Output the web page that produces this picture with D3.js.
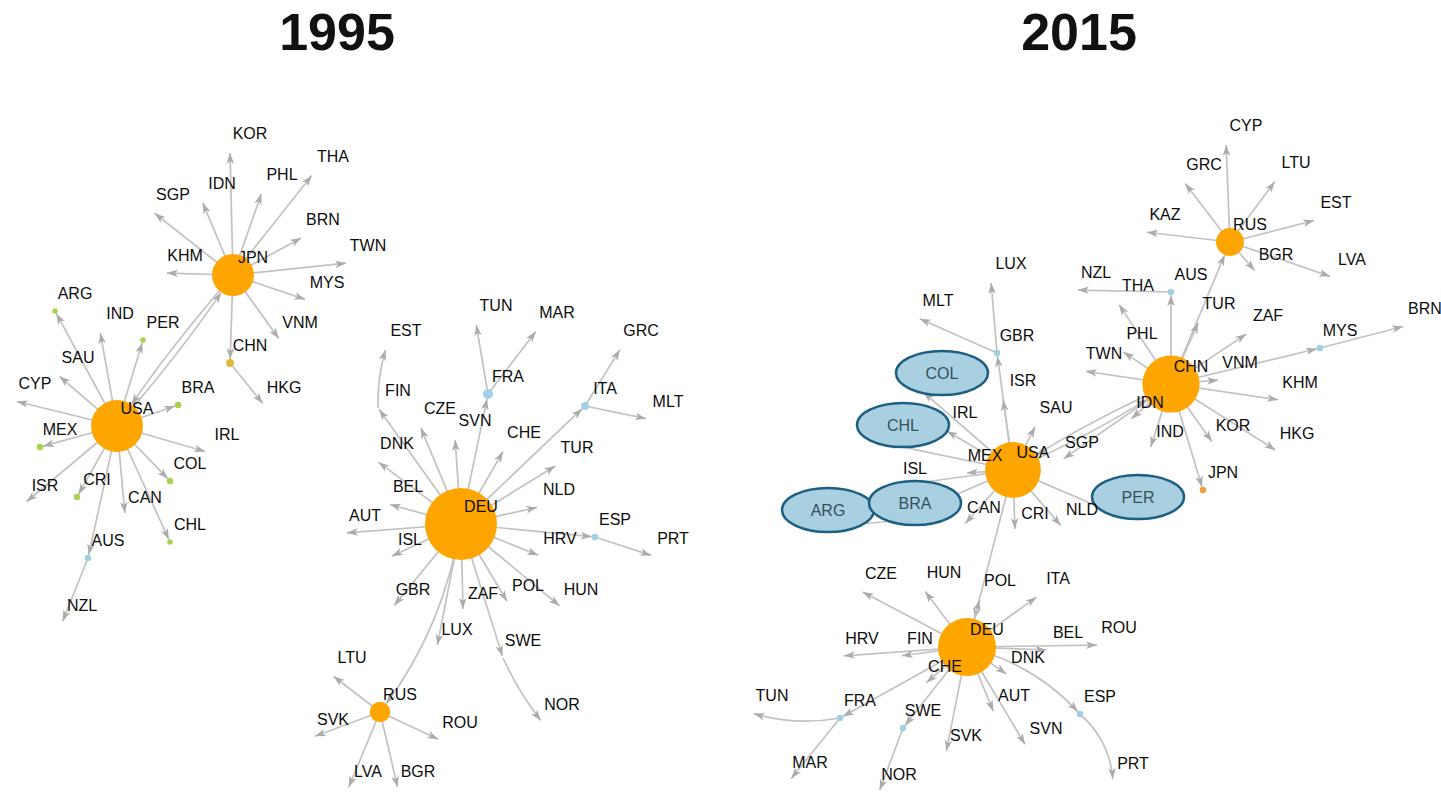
<!DOCTYPE html>
<meta charset="utf-8">
<style>
body { margin: 0; background: #fff; }
.title { font: bold 52px "Liberation Sans", Arial, sans-serif; fill: #111; text-anchor: middle; }
.edge { fill: none; stroke: #c2c2c2; stroke-width: 1.7; }
.label { font: 16px "Liberation Sans", Arial, sans-serif; fill: #0d0d0d; text-anchor: middle; dominant-baseline: central; }
.hl { fill: #a9d0e0; stroke: #1c5f82; stroke-width: 2.5; }
.hltext { fill: #33505e; }
</style>
<svg width="1441" height="792"></svg>
<script src="https://d3js.org/d3.v7.min.js"></script>
<script>
// panel titles
var years = ["1995", "2015"];

// nodes: [code, x, y, weight, kind]  (layout coordinates of the original plot)
var nodes1995 = [
  ["USA",117,426,52,"hub"], ["JPN",233,275,34,"hub"], ["DEU",461,524,100,"hub"], ["RUS",380,712,8,"hub"],
  ["KOR",230,151,0.3,"grey"], ["IDN",202,201,0.3,"grey"], ["SGP",153,212,0.3,"grey"], ["PHL",262,192,0.3,"grey"],
  ["THA",313,174,0.3,"grey"], ["BRN",303,237,0.3,"grey"], ["TWN",348,263,0.3,"grey"], ["MYS",307,300,0.3,"grey"],
  ["VNM",280,340,0.3,"grey"], ["KHM",165,273,0.3,"grey"], ["CHN",230,363,1.2,"gold"], ["HKG",264,405,0.3,"grey"],
  ["BRA",178,405,0.8,"green"], ["IRL",207,452,0.3,"grey"], ["COL",170,481,0.8,"green"], ["CHL",170,542,0.6,"green"],
  ["CAN",125,515,0.3,"grey"], ["AUS",88,558,0.8,"blue"], ["NZL",62,623,0.3,"grey"], ["CRI",77,497,0.8,"green"],
  ["ISR",25,503,0.3,"grey"], ["MEX",40,447,0.8,"green"], ["CYP",15,401,0.3,"grey"], ["SAU",58,375,0.3,"grey"],
  ["ARG",55,311,0.6,"green"], ["IND",100,331,0.3,"grey"], ["PER",143,340,0.6,"green"],
  ["FIN",378,408,0.3,"grey"], ["EST",386,348,0.3,"grey"], ["DNK",377,461,0.3,"grey"], ["CZE",420,426,0.3,"grey"],
  ["SVN",455,438,0.3,"grey"], ["FRA",488,394,2,"blue"], ["TUN",476,323,0.3,"grey"], ["MAR",537,330,0.3,"grey"],
  ["CHE",504,450,0.3,"grey"], ["ITA",585,406,1.2,"blue"], ["GRC",621,348,0.3,"grey"], ["MLT",648,419,0.3,"grey"],
  ["TUR",557,465,0.3,"grey"], ["NLD",539,507,0.3,"grey"], ["ESP",595,537,0.8,"blue"], ["PRT",653,556,0.3,"grey"],
  ["HRV",540,556,0.3,"grey"], ["BEL",388,504,0.3,"grey"], ["AUT",345,533,0.3,"grey"], ["ISL",390,557,0.3,"grey"],
  ["GBR",393,607,0.3,"grey"], ["ZAF",463,611,0.3,"grey"], ["POL",508,603,0.3,"grey"], ["HUN",561,607,0.3,"grey"],
  ["LUX",437,647,0.3,"grey"], ["SWE",503,658,0.3,"grey"], ["NOR",542,722,0.3,"grey"],
  ["LTU",332,675,0.3,"grey"], ["SVK",313,737,0.3,"grey"], ["ROU",440,740,0.3,"grey"], ["LVA",348,789,0.3,"grey"],
  ["BGR",398,789,0.3,"grey"]
];

// edges: [from, to, curvature]
var edges1995 = [
  ["USA","JPN",0.03], ["JPN","USA",0.03],
  ["JPN","KOR"], ["JPN","IDN"], ["JPN","SGP"], ["JPN","PHL"], ["JPN","THA"], ["JPN","BRN"], ["JPN","TWN"],
  ["JPN","MYS"], ["JPN","VNM"], ["JPN","KHM"], ["JPN","CHN"], ["CHN","HKG"],
  ["USA","BRA"], ["USA","IRL"], ["USA","COL"], ["USA","CHL"], ["USA","CAN"], ["USA","AUS"], ["USA","CRI"],
  ["USA","ISR"], ["USA","MEX"], ["USA","CYP"], ["USA","SAU"], ["USA","ARG"], ["USA","IND"], ["USA","PER"],
  ["AUS","NZL"],
  ["DEU","FIN"], ["DEU","DNK"], ["DEU","CZE"], ["DEU","SVN"], ["DEU","FRA"], ["DEU","CHE"], ["DEU","ITA"],
  ["DEU","TUR"], ["DEU","NLD"], ["DEU","ESP"], ["DEU","HRV"], ["DEU","BEL"], ["DEU","AUT"], ["DEU","ISL"],
  ["DEU","GBR"], ["DEU","ZAF"], ["DEU","POL"], ["DEU","HUN"], ["DEU","LUX"], ["DEU","SWE"], ["DEU","RUS",-0.12],
  ["FIN","EST",-0.08], ["FRA","TUN"], ["FRA","MAR"], ["ITA","GRC"], ["ITA","MLT"], ["ESP","PRT"], ["SWE","NOR",0.06],
  ["RUS","LTU"], ["RUS","SVK"], ["RUS","ROU"], ["RUS","LVA"], ["RUS","BGR"]
];

var nodes2015 = [
  ["USA",1013,470,60,"hub"], ["CHN",1171,384,63,"hub"], ["DEU",967,647,65,"hub"], ["RUS",1230,242,15,"hub"],
  ["CYP",1226,143,0.3,"grey"], ["GRC",1184,182,0.3,"grey"], ["LTU",1276,180,0.3,"grey"], ["EST",1316,220,0.3,"grey"],
  ["KAZ",1145,232,0.3,"grey"], ["BGR",1256,272,0.3,"grey"], ["LVA",1332,277,0.3,"grey"],
  ["AUS",1171,292,0.8,"blue"], ["NZL",1076,290,0.3,"grey"], ["THA",1118,303,0.3,"grey"], ["PHL",1122,351,0.3,"grey"],
  ["TUR",1199,321,0.3,"grey"], ["ZAF",1248,333,0.3,"grey"], ["MYS",1320,348,0.8,"blue"], ["BRN",1405,326,0.3,"grey"],
  ["VNM",1220,380,0.3,"grey"], ["TWN",1084,371,0.3,"grey"], ["KHM",1280,400,0.3,"grey"], ["KOR",1213,443,0.3,"grey"],
  ["HKG",1277,451,0.3,"grey"], ["IND",1150,449,0.3,"grey"], ["JPN",1203,490,0.8,"orange"], ["IDN",1130,420,0.3,"grey"],
  ["SGP",1062,460,0.3,"grey"],
  ["MEX",965,473,0.3,"grey"], ["ISL",895,486,0.3,"grey"], ["BRA",895,521,0.8,"green"], ["ARG",808,528,0.8,"green"],
  ["CHL",883,443,0.3,"grey"], ["COL",922,391,0.3,"grey"], ["IRL",945,430,0.3,"grey"], ["GBR",997,353,0.8,"blue"],
  ["LUX",991,281,0.3,"grey"], ["MLT",918,318,0.3,"grey"], ["ISR",1003,398,0.3,"grey"], ["SAU",1036,425,0.3,"grey"],
  ["CAN",964,525,0.3,"grey"], ["CRI",1015,531,0.3,"grey"], ["NLD",1062,527,0.3,"grey"], ["PER",1118,515,0.8,"gold"],
  ["CZE",861,591,0.3,"grey"], ["HUN",924,590,0.3,"grey"], ["POL",980,598,0.3,"grey"], ["ITA",1038,596,0.3,"grey"],
  ["BEL",1048,650,0.3,"grey"], ["ROU",1099,645,0.3,"grey"], ["DNK",1008,675,0.3,"grey"], ["HRV",842,656,0.3,"grey"],
  ["FIN",900,656,0.3,"grey"], ["CHE",925,684,0.3,"grey"], ["FRA",840,718,0.8,"blue"], ["TUN",752,713,0.3,"grey"],
  ["MAR",790,780,0.3,"grey"], ["SWE",903,728,0.8,"blue"], ["NOR",879,792,0.3,"grey"], ["SVK",946,753,0.3,"grey"],
  ["AUT",994,713,0.3,"grey"], ["SVN",1026,746,0.3,"grey"], ["ESP",1080,714,0.8,"blue"], ["PRT",1113,781,0.3,"grey"]
];

var edges2015 = [
  ["RUS","CYP"], ["RUS","GRC"], ["RUS","LTU"], ["RUS","EST"], ["RUS","KAZ"], ["RUS","BGR"], ["RUS","LVA"],
  ["CHN","RUS"], ["CHN","AUS"], ["AUS","NZL"], ["CHN","THA"], ["CHN","PHL"], ["CHN","TUR"], ["CHN","ZAF"],
  ["CHN","MYS"], ["MYS","BRN"], ["CHN","VNM"], ["CHN","TWN"], ["CHN","KHM"], ["CHN","KOR"], ["CHN","HKG"],
  ["CHN","IND"], ["CHN","JPN"], ["CHN","IDN"], ["CHN","SGP"],
  ["USA","CHN",0.035], ["CHN","USA",0.035],
  ["USA","MEX"], ["USA","ISL"], ["USA","BRA"], ["BRA","ARG"], ["USA","CHL"], ["USA","COL"], ["USA","IRL"],
  ["USA","GBR"], ["GBR","LUX"], ["GBR","MLT"], ["USA","ISR"], ["USA","SAU"], ["USA","CAN"], ["USA","CRI"],
  ["USA","NLD"], ["USA","PER"], ["USA","DEU"],
  ["DEU","CZE"], ["DEU","HUN"], ["DEU","POL"], ["DEU","ITA"], ["DEU","BEL"], ["DEU","ROU"], ["DEU","DNK"],
  ["DEU","HRV"], ["DEU","FIN"], ["DEU","CHE"], ["DEU","FRA"], ["FRA","TUN",-0.12], ["FRA","MAR"], ["DEU","SWE"],
  ["SWE","NOR"], ["DEU","SVK"], ["DEU","AUT"], ["DEU","SVN"], ["DEU","ESP",-0.15], ["ESP","PRT",-0.2]
];

// countries circled in the 2015 panel
var highlight2015 = ["COL", "CHL", "ARG", "BRA", "PER"];

var svg = d3.select("svg"),
    width = +svg.attr("width"),
    height = +svg.attr("height");

var x = d3.scaleLinear().domain([0, 1441]).range([0, width]);
var y = d3.scaleLinear().domain([0, 792]).range([0, height]);
var r = d3.scaleSqrt().domain([0, 100]).range([0, 36]);
var titleX = d3.scalePoint().domain(years).range([x(337), x(1079)]);

var colour = {
  hub: "#ffa500", green: "#a9d24f", blue: "#9fd0e4", gold: "#e2b836", orange: "#f0a040", grey: "none"
};

svg.append("defs").append("marker")
    .attr("id", "arrow")
    .attr("viewBox", "-11 -5 12 10")
    .attr("refX", 0)
    .attr("refY", 0)
    .attr("markerWidth", 12)
    .attr("markerHeight", 10)
    .attr("markerUnits", "userSpaceOnUse")
    .attr("orient", "auto")
  .append("path")
    .attr("d", "M0,0L-11,-3.8L-8,0L-11,3.8Z")
    .attr("fill", "#ababab");

svg.selectAll("text.title")
    .data(years)
  .enter().append("text")
    .attr("class", "title")
    .attr("x", function(d) { return titleX(d); })
    .attr("y", 50)
    .text(function(d) { return d; });

function drawNet(nodes, edges, highlight) {
  var byId = {};
  nodes.forEach(function(d) {
    byId[d[0]] = {id: d[0], x: x(d[1]), y: y(d[2]), r: r(d[3]), kind: d[4]};
  });
  var list = nodes.map(function(d) { return byId[d[0]]; });
  var g = svg.append("g");

  g.selectAll("path.edge")
      .data(edges)
    .enter().append("path")
      .attr("class", "edge")
      .attr("marker-end", "url(#arrow)")
      .attr("d", function(e) {
        var s = byId[e[0]], t = byId[e[1]], c = e[2] || 0;
        var dx = t.x - s.x, dy = t.y - s.y;
        var mx = (s.x + t.x) / 2 - dy * c, my = (s.y + t.y) / 2 + dx * c;
        var vx = t.x - mx, vy = t.y - my, vl = Math.sqrt(vx * vx + vy * vy);
        var ex = t.x - vx / vl * t.r, ey = t.y - vy / vl * t.r;
        return "M" + s.x + "," + s.y + "Q" + mx + "," + my + " " + ex + "," + ey;
      });

  g.selectAll("circle.node")
      .data(list)
    .enter().append("circle")
      .attr("class", "node")
      .attr("cx", function(d) { return d.x; })
      .attr("cy", function(d) { return d.y; })
      .attr("r", function(d) { return d.r; })
      .attr("fill", function(d) { return colour[d.kind]; });

  g.selectAll("ellipse.hl")
      .data(highlight)
    .enter().append("ellipse")
      .attr("class", "hl")
      .attr("cx", function(d) { return byId[d].x + 20; })
      .attr("cy", function(d) { return byId[d].y - 18; })
      .attr("rx", 46)
      .attr("ry", 22);

  g.selectAll("text.label")
      .data(list)
    .enter().append("text")
      .attr("class", function(d) { return highlight.indexOf(d.id) >= 0 ? "label hltext" : "label"; })
      .attr("x", function(d) { return d.x + 20; })
      .attr("y", function(d) { return d.y - 18; })
      .text(function(d) { return d.id; });
}

drawNet(nodes1995, edges1995, []);
drawNet(nodes2015, edges2015, highlight2015);
</script>
